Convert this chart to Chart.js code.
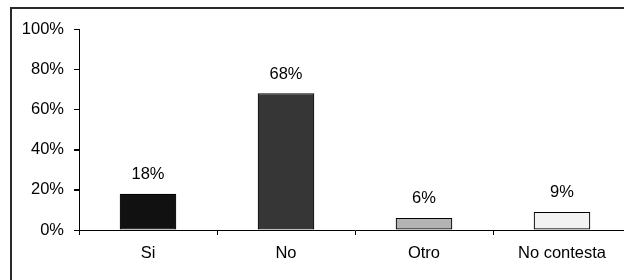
<!DOCTYPE html>
<html>
<head>
<meta charset="utf-8">
<script src="https://cdn.jsdelivr.net/npm/chart.js@4/dist/chart.umd.min.js"></script>
<style>
  html, body { margin: 0; padding: 0; background: #fff; overflow: hidden; }
  #wrap { position: relative; width: 640px; height: 280px; }
</style>
</head>
<body>
<div id="wrap"><canvas id="chart" width="640" height="280"></canvas></div>
<script>
// Chart data
const categories = ['Si', 'No', 'Otro', 'No contesta'];
const shares = [0.18, 0.68, 0.06, 0.09];
const barColors = ['#111111', '#363636', '#b3b3b3', '#f2f2f2'];
const yMax = 1.0;
const yStep = 0.2;

const FONT = "'Liberation Sans', Arial, sans-serif";

// frame around the whole chart (only top and left are visible)
const framePlugin = {
    id: 'frame',
    beforeDraw(chart) {
        const ctx = chart.ctx;
        ctx.save();
        ctx.fillStyle = '#fff';
        ctx.fillRect(0, 0, chart.width, chart.height);
        ctx.strokeStyle = '#2a2a2a';
        ctx.lineWidth = 2;
        ctx.strokeRect(11, 8, 700, 400);
        ctx.restore();
    }
};

// small outward tick marks on the y axis
const yTickMarks = {
    id: 'yTickMarks',
    afterDraw(chart) {
        const y = chart.scales.y;
        const ctx = chart.ctx;
        ctx.save();
        ctx.strokeStyle = '#000';
        ctx.lineWidth = 1;
        ctx.beginPath();
        y.ticks.forEach(t => {
            const py = Math.round(y.getPixelForValue(t.value)) + 0.5;
            ctx.moveTo(y.right - 5, py);
            ctx.lineTo(y.right, py);
        });
        ctx.stroke();
        ctx.restore();
    }
};

// percentage labels above the bars
const valueLabels = {
    id: 'valueLabels',
    afterDatasetsDraw(chart) {
        const ctx = chart.ctx;
        const meta = chart.getDatasetMeta(0);
        ctx.save();
        ctx.font = '16.5px ' + FONT;
        ctx.fillStyle = '#000';
        ctx.textAlign = 'center';
        ctx.textBaseline = 'alphabetic';
        meta.data.forEach((bar, i) => {
            ctx.fillText(Math.round(shares[i] * 100) + '%', bar.x, bar.y - 14.5);
        });
        ctx.restore();
    }
};

new Chart(document.getElementById('chart'), {
    type: 'bar',
    data: {
        labels: categories,
        datasets: [{
            data: shares,
            backgroundColor: barColors,
            borderColor: '#000',
            borderWidth: 1.2,
            borderSkipped: false,
            categoryPercentage: 1,
            barPercentage: 0.41
        }]
    },
    options: {
        responsive: false,
        animation: false,
        layout: { padding: { top: 29, right: 9, left: 0, bottom: 0 } },
        plugins: { legend: { display: false }, tooltip: { enabled: false } },
        scales: {
            x: {
                afterFit: s => { s.height = 50; },
                grid: { drawOnChartArea: false, drawTicks: true, tickLength: 5, color: '#000' },
                border: { color: '#000', width: 1 },
                ticks: { color: '#000', padding: 9, font: { family: FONT, size: 16.5 } }
            },
            y: {
                min: 0,
                max: yMax,
                afterFit: s => { s.width = 79; },
                grid: { drawOnChartArea: false, drawTicks: true, tickLength: 5, color: '#000' },
                border: { color: '#000', width: 1 },
                ticks: {
                    stepSize: yStep,
                    color: '#000',
                    padding: 10,
                    font: { family: FONT, size: 16.5 },
                    callback: v => Math.round(v * 100) + '%'
                }
            }
        }
    },
    plugins: [framePlugin, yTickMarks, valueLabels]
});
</script>
</body>
</html>
